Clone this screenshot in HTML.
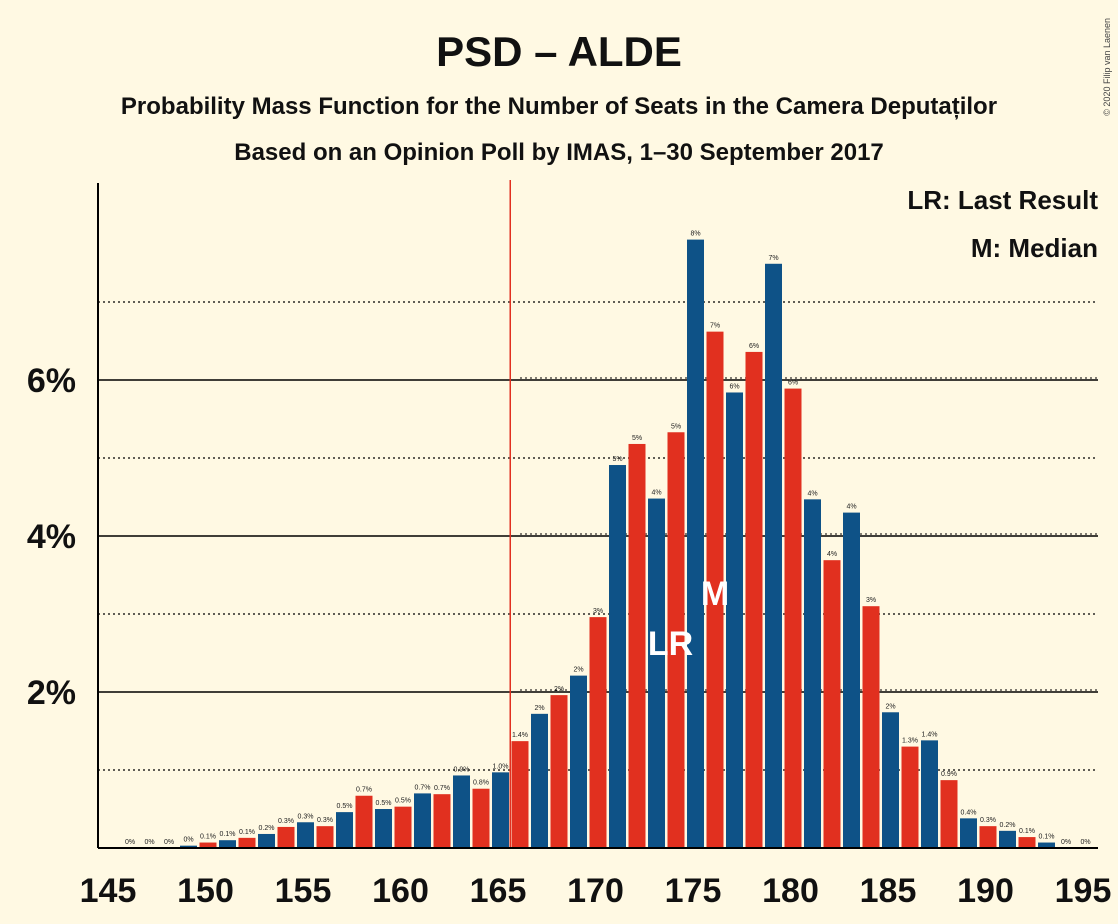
<!DOCTYPE html>
<html><head><meta charset="utf-8"><style>
body{margin:0;background:#fff9e3;}
svg{display:block;font-family:"Liberation Sans",sans-serif;}
</style></head><body>
<svg id="c" width="1118" height="924">
<rect width="1118" height="924" fill="#fff9e3"/>
<text x="559" y="66" text-anchor="middle" font-size="42" font-weight="bold" fill="#111">PSD – ALDE</text>
<text x="559" y="114" text-anchor="middle" font-size="24" font-weight="bold" fill="#111">Probability Mass Function for the Number of Seats in the Camera Deputaților</text>
<text x="559" y="160" text-anchor="middle" font-size="24" font-weight="bold" fill="#111">Based on an Opinion Poll by IMAS, 1–30 September 2017</text>
<text x="1100" y="8" font-size="9" fill="#444" transform="rotate(-90 1110 8)" text-anchor="end">© 2020 Filip van Laenen</text>
<text x="1098" y="209" text-anchor="end" font-size="26" font-weight="bold" fill="#111">LR: Last Result</text>
<text x="1098" y="257" text-anchor="end" font-size="26" font-weight="bold" fill="#111">M: Median</text>
<g id="grid"></g><g id="bars"></g><g id="axes"></g>
</svg>
<script>
const seats=[145,146,147,148,149,150,151,152,153,154,155,156,157,158,159,160,161,162,163,164,165,166,167,168,169,170,171,172,173,174,175,176,177,178,179,180,181,182,183,184,185,186,187,188,189,190,191,192,193,194,195];
const probs=[0,0,0,0,0.03,0.07,0.1,0.13,0.18,0.27,0.33,0.28,0.46,0.67,0.5,0.53,0.7,0.69,0.93,0.76,0.97,1.37,1.72,1.96,2.21,2.96,4.91,5.18,4.48,5.33,7.8,6.62,5.84,6.36,7.49,5.89,4.47,3.69,4.3,3.1,1.74,1.3,1.38,0.87,0.38,0.28,0.22,0.14,0.07,0,0];
const xTicks=[145,150,155,160,165,170,175,180,185,190,195];
const yTicks=[2,4,6];
const yDotted=[1,3,5,7];
const lastResult=166, median=176, lrSeat=173;
const NS="http://www.w3.org/2000/svg";
const X=s=>108+(s-145)*19.5, XB=s=>X(s)+2.5, Y=v=>848-v*78;
function mk(t,a,p,txt){const e=document.createElementNS(NS,t);for(const k in a)e.setAttribute(k,a[k]);if(txt!==undefined)e.textContent=txt;p.appendChild(e);return e;}
const G=document.getElementById('grid'),B=document.getElementById('bars'),A=document.getElementById('axes');
yDotted.forEach(v=>{const l=mk('line',{x1:98,x2:1098,y1:Y(v),y2:Y(v),stroke:'#000','stroke-dasharray':'2,3','stroke-width':1.2},G);

});
yTicks.forEach(v=>{const l=mk('line',{x1:98,x2:1098,y1:Y(v),y2:Y(v),stroke:'#000','stroke-width':1.5},G);


const d=mk('line',{x1:520,x2:1098,y1:Y(v)-2,y2:Y(v)-2,stroke:'#000','stroke-dasharray':'2,3','stroke-width':1},G);


const t=mk('text',{x:76,y:Y(v)+12,'text-anchor':'end','font-size':34,'font-weight':'bold',fill:'#111'},A,v+'%');

});
seats.forEach((s,i)=>{const v=probs[i];const col=s%2?'#0e5287':'#e1301f';
const r=mk('rect',{x:XB(s)-8.5,y:Y(v),width:17,height:848-Y(v),fill:col},B);


if(s>145){const lab=v<0.05?'0%':(v<1.5?v.toFixed(1)+'%':Math.round(v)+'%');
const t=mk('text',{x:XB(s),y:Y(v)-4,'text-anchor':'middle','font-size':7,fill:'#222'},B,lab);

}});
const lr=mk('line',{x1:XB(lastResult)-9.75,x2:XB(lastResult)-9.75,y1:180,y2:848,stroke:'#e1301f','stroke-width':1.5},B);


const lt=mk('text',{x:XB(lrSeat)+14,y:655,'text-anchor':'middle','font-size':34,'font-weight':'bold',fill:'#fff'},B,'LR');


const mt=mk('text',{x:XB(median),y:605,'text-anchor':'middle','font-size':34,'font-weight':'bold',fill:'#fff'},B,'M');


const ya=mk('line',{x1:98,x2:98,y1:183,y2:848,stroke:'#000','stroke-width':2},A);


const xa=mk('line',{x1:98,x2:1098,y1:848,y2:848,stroke:'#000','stroke-width':2},A);


xTicks.forEach(s=>{const t=mk('text',{x:X(s),y:902,'text-anchor':'middle','font-size':34,'font-weight':'bold',fill:'#111'},A,s);

});
</script>
</body></html>
